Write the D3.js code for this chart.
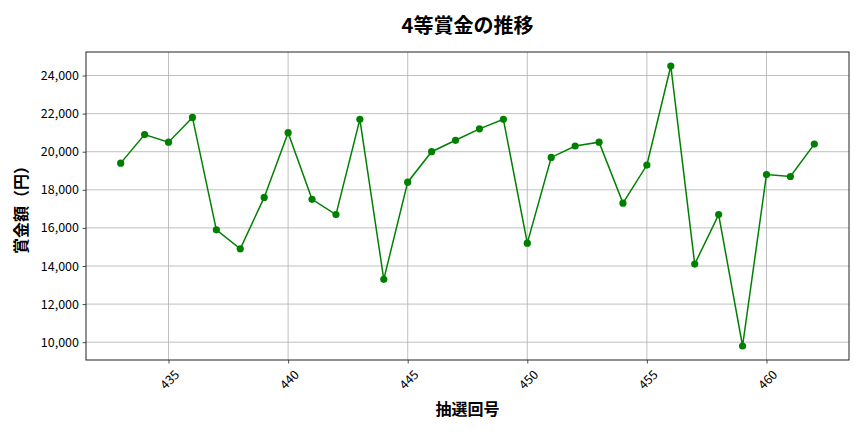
<!DOCTYPE html>
<html>
<head>
<meta charset="utf-8">
<script src="https://cdn.jsdelivr.net/npm/d3@7"></script>
<style>
  body { margin: 0; background: #fff; }
  svg text { font-family: "Noto Sans CJK JP", "Noto Sans", sans-serif; fill: #000; }
</style>
</head>
<body>
<svg id="chart"></svg>
<script>
// Data
const draws = d3.range(433, 463); // 433 .. 462
const prizes = [
  19400, 20900, 20500, 21800, 15900, 14900, 17600, 21000, 17500, 16700,
  21700, 13300, 18400, 20000, 20600, 21200, 21700, 15200, 19700, 20300,
  20500, 17300, 19300, 24500, 14100, 16700, 9800, 18800, 18700, 20400
];
const xTicks = [435, 440, 445, 450, 455, 460];
const yTicks = [10000, 12000, 14000, 16000, 18000, 20000, 22000, 24000];

const svgWidth = 864;
const svgHeight = 432;
const margin = { top: 52, right: 15, bottom: 72, left: 86 };
const width = svgWidth - margin.left - margin.right;
const height = svgHeight - margin.top - margin.bottom;

const svg = d3.select("#chart")
    .attr("width", svgWidth)
    .attr("height", svgHeight);

const chart = svg.append("g")
    .attr("transform", `translate(${margin.left},${margin.top})`);

const data = draws.map((d, i) => ({ draw: d, prize: prizes[i] }));

// matplotlib-like 5% padding on both axes
const xMin = d3.min(draws), xMax = d3.max(draws);
const xPad = (xMax - xMin) * 0.05;
const xScale = d3.scaleLinear()
    .domain([xMin - xPad, xMax + xPad])
    .range([0, width]);

const yMin = d3.min(prizes), yMax = d3.max(prizes);
const yPad = (yMax - yMin) * 0.05;
const yScale = d3.scaleLinear()
    .domain([yMin - yPad, yMax + yPad])
    .range([height, 0]);

// Grid
chart.append("g")
    .selectAll("line")
    .data(xTicks)
    .enter().append("line")
    .attr("x1", d => xScale(d)).attr("x2", d => xScale(d))
    .attr("y1", 0).attr("y2", height)
    .attr("stroke", "#b0b0b0").attr("stroke-width", 0.8);

chart.append("g")
    .selectAll("line")
    .data(yTicks)
    .enter().append("line")
    .attr("x1", 0).attr("x2", width)
    .attr("y1", d => yScale(d)).attr("y2", d => yScale(d))
    .attr("stroke", "#b0b0b0").attr("stroke-width", 0.8);

// Axes
const xAxis = d3.axisBottom(xScale)
    .tickValues(xTicks)
    .tickSize(3.5)
    .tickPadding(3.5)
    .tickFormat(d3.format("d"));

const gx = chart.append("g")
    .attr("transform", `translate(0,${height})`)
    .call(xAxis);
gx.select(".domain").remove();
gx.selectAll(".tick line").attr("stroke", "#222").attr("stroke-width", 0.8);
gx.selectAll(".tick text")
    .attr("font-size", 12.5)
    .attr("y", null)
    .attr("dy", null)
    .attr("text-anchor", "middle")
    .attr("dominant-baseline", "central")
    .attr("transform", "translate(0,19) rotate(-45)");

const yAxis = d3.axisLeft(yScale)
    .tickValues(yTicks)
    .tickSize(3.5)
    .tickPadding(3.5)
    .tickFormat(d3.format(","));

const gy = chart.append("g").call(yAxis);
gy.select(".domain").remove();
gy.selectAll(".tick line").attr("stroke", "#222").attr("stroke-width", 0.8);
gy.selectAll(".tick text").attr("font-size", 12.5);

// Frame
chart.append("rect")
    .attr("width", width)
    .attr("height", height)
    .attr("fill", "none")
    .attr("stroke", "#222")
    .attr("stroke-width", 1);

// Line + markers
const line = d3.line()
    .x(d => xScale(d.draw))
    .y(d => yScale(d.prize));

chart.append("path")
    .datum(data)
    .attr("fill", "none")
    .attr("stroke", "green")
    .attr("stroke-width", 1.5)
    .attr("d", line);

chart.selectAll(".dot")
    .data(data)
    .enter()
    .append("circle")
    .attr("class", "dot")
    .attr("cx", d => xScale(d.draw))
    .attr("cy", d => yScale(d.prize))
    .attr("r", 3.6)
    .attr("fill", "green");

// Title and labels
svg.append("text")
    .attr("x", margin.left + width / 2)
    .attr("y", 24)
    .attr("text-anchor", "middle")
    .attr("dominant-baseline", "central")
    .attr("font-size", 20)
    .attr("font-weight", "bold")
    .text("4等賞金の推移");

svg.append("text")
    .attr("x", margin.left + width / 2)
    .attr("y", 408)
    .attr("text-anchor", "middle")
    .attr("dominant-baseline", "central")
    .attr("font-size", 16)
    .attr("font-weight", "bold")
    .text("抽選回号");

svg.append("text")
    .attr("transform", `translate(20,${margin.top + height / 2}) rotate(-90)`)
    .attr("text-anchor", "middle")
    .attr("dominant-baseline", "central")
    .attr("font-size", 16)
    .attr("font-weight", "bold")
    .text("賞金額（円）");
</script>
</body>
</html>
